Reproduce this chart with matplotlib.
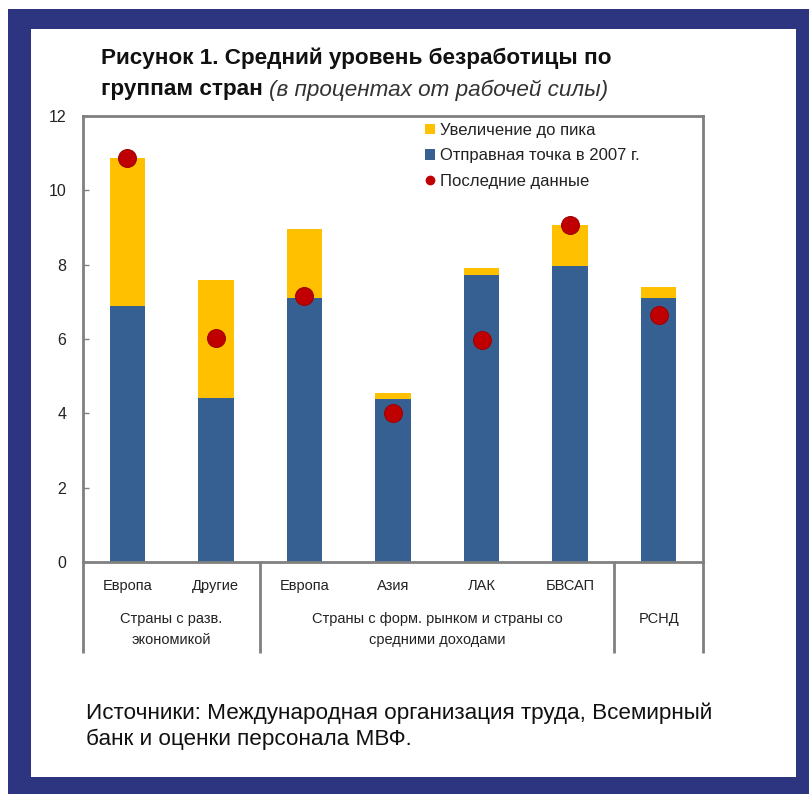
import matplotlib
matplotlib.use("Agg")
import matplotlib.pyplot as plt
from matplotlib.patches import Rectangle, Patch
from matplotlib.lines import Line2D
import numpy as np

plt.rcParams['font.family'] = ['Liberation Sans', 'DejaVu Sans']

# ---------------- data ----------------
bar_labels = ["Европа", "Другие", "Европа", "Азия", "ЛАК", "БВСАП", ""]
baseline_2007 = [6.9, 4.4, 7.1, 4.38, 7.72, 7.96, 7.1]
increase_to_peak = [3.97, 3.2, 1.85, 0.18, 0.2, 1.1, 0.3]
latest_data = [10.88, 6.02, 7.15, 4.0, 5.98, 9.07, 6.65]

group_labels = ["Страны с разв.\nэкономикой",
                "Страны с форм. рынком и страны со\nсредними доходами",
                "РСНД"]
group_spans = [(0, 1), (2, 5), (6, 6)]

legend_labels = ["Увеличение до пика", "Отправная точка в 2007 г.", "Последние данные"]
y_ticks = [0, 2, 4, 6, 8, 10, 12]

title_line1 = "Рисунок 1. Средний уровень безработицы по"
title_line2_bold = "группам стран"
title_line2_italic = "(в процентах от рабочей силы)"
source_text = "Источники: Международная организация труда, Всемирный\nбанк и оценки персонала МВФ."

# ---------------- style ----------------
W, H = 809, 794
BLUE = "#366092"
YELLOW = "#FFC000"
RED = "#C00000"
NAVY = "#2D3580"
GRAY = "#808080"

fig = plt.figure(figsize=(W / 100, H / 100), dpi=100)
fig.patch.set_facecolor("white")

# navy frame and white inner panel
fig.patches.append(Rectangle((8 / W, 0), 1 - 8 / W, 1 - 9 / H, transform=fig.transFigure,
                             facecolor=NAVY, edgecolor="none", zorder=-10))
fig.patches.append(Rectangle((31 / W, (H - 777) / H), (796 - 31) / W, (777 - 29) / H,
                             transform=fig.transFigure, facecolor="white",
                             edgecolor="none", zorder=-9))

left, right, top, bottom = 83, 703, 116, 562
ax = fig.add_axes([left / W, (H - bottom) / H, (right - left) / W, (bottom - top) / H])
ax.set_facecolor("none")

x = np.arange(len(baseline_2007))
ax.bar(x, baseline_2007, width=0.4, color=BLUE, zorder=2)
ax.bar(x, increase_to_peak, width=0.4, bottom=baseline_2007, color=YELLOW, zorder=2)
ax.scatter(x, latest_data, s=165, color=RED, edgecolor="#A00000", linewidth=0.8, zorder=3)

ax.set_xlim(-0.5, len(x) - 0.5)
ax.set_ylim(0, 12)
ax.set_yticks(y_ticks)
ax.set_yticklabels([str(t) for t in y_ticks], fontsize=11.5, color="#222222")
ax.tick_params(axis="y", direction="in", length=4, width=1, color=GRAY, pad=12)
ax.set_xticks([])
for sp in ax.spines.values():
    sp.set_color(GRAY)
    sp.set_linewidth(2)

# category labels
axh = bottom - top
def yfrac(py):
    return (bottom - py) / axh

tr = ax.get_xaxis_transform()
for xi, lab in zip(x, bar_labels):
    if lab:
        ax.text(xi, yfrac(586), lab, transform=tr, ha="center", va="center",
                fontsize=10.5, color="#222222")

for lab, (a, b) in zip(group_labels, group_spans):
    ax.text((a + b) / 2, yfrac(612), lab, transform=tr, ha="center", va="top",
            fontsize=10.5, color="#222222", linespacing=1.6)

# separators
for sx in [-0.5, 1.5, 5.5, len(x) - 0.5]:
    ax.plot([sx, sx], [0, yfrac(653)], transform=tr, color=GRAY, lw=2,
            clip_on=False, solid_capstyle="butt")

# legend
handles = [Patch(facecolor=YELLOW, edgecolor="none"),
           Patch(facecolor=BLUE, edgecolor="none"),
           Line2D([], [], marker="o", linestyle="none", markersize=6,
                  markerfacecolor=RED, markeredgecolor=RED)]
leg = fig.legend(handles, legend_labels, loc="upper left",
                 bbox_to_anchor=(425 / W, (H - 123) / H), frameon=False,
                 fontsize=12, handlelength=0.6, handleheight=0.6,
                 handletextpad=0.3, labelspacing=0.62, borderpad=0, borderaxespad=0)
for t in leg.get_texts():
    t.set_color("#222222")

# title
fig.text(101 / W, (H - 58) / H, title_line1, fontsize=16.2, fontweight="bold",
         ha="left", va="center", color="#111111")
t2 = fig.text(101 / W, (H - 90) / H, title_line2_bold, fontsize=16.2, fontweight="bold",
              ha="left", va="center", color="#111111")
fig.canvas.draw()
bb = t2.get_window_extent()
fig.text((bb.x1 + 6) / W, (H - 90) / H, title_line2_italic, fontsize=16.2,
         fontstyle="italic", ha="left", va="center", color="#333333")

# source
fig.text(86 / W, (H - 702) / H, source_text, fontsize=16.2,
         family=["Liberation Sans Narrow", "Liberation Sans", "DejaVu Sans"],
         ha="left", va="top", color="#111111", linespacing=1.3)

fig.savefig("out.png", dpi=100)
